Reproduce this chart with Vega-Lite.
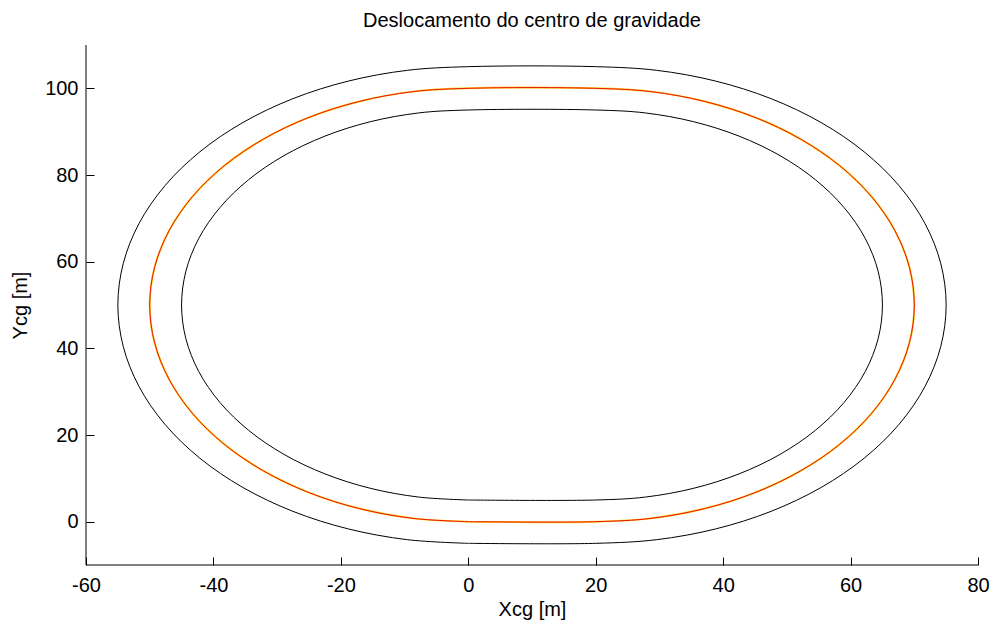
{
  "$schema": "https://vega.github.io/schema/vega-lite/v6.json",
  "width": 892,
  "height": 520,
  "autosize": "none",
  "padding": {"left": 86, "top": 45, "right": 13, "bottom": 60},
  "background": "white",
  "config": {
    "view": {"stroke": null},
    "font": "Liberation Sans, Arial, sans-serif"
  },
  "title": {
    "text": "Deslocamento do centro de gravidade",
    "fontSize": 20,
    "fontWeight": "normal",
    "color": "#000000",
    "offset": 14,
    "anchor": "middle"
  },
  "datasets": {
    "frame": [
      {"x": -60, "x2": 80, "y": -10, "y2": -10},
      {"x": -60, "x2": -60, "y": -10, "y2": 110}
    ],
    "outer": [
      {"i": 0, "x": 0, "y": -5}, {"i": 2, "x": 20, "y": -5},
      {"i": 3, "x": 29.55, "y": -4.16}, {"i": 4, "x": 38.81, "y": -1.68}, {"i": 5, "x": 47.5, "y": 2.37},
      {"i": 6, "x": 55.35, "y": 7.87}, {"i": 7, "x": 62.13, "y": 14.65}, {"i": 8, "x": 67.63, "y": 22.5},
      {"i": 9, "x": 71.68, "y": 31.19}, {"i": 10, "x": 74.16, "y": 40.45}, {"i": 11, "x": 75, "y": 50},
      {"i": 12, "x": 74.16, "y": 59.55}, {"i": 13, "x": 71.68, "y": 68.81}, {"i": 14, "x": 67.63, "y": 77.5},
      {"i": 15, "x": 62.13, "y": 85.35}, {"i": 16, "x": 55.35, "y": 92.13}, {"i": 17, "x": 47.5, "y": 97.63},
      {"i": 18, "x": 38.81, "y": 101.68}, {"i": 19, "x": 29.55, "y": 104.16}, {"i": 20, "x": 20, "y": 105},
      {"i": 22, "x": 0, "y": 105},
      {"i": 23, "x": -9.55, "y": 104.16}, {"i": 24, "x": -18.81, "y": 101.68}, {"i": 25, "x": -27.5, "y": 97.63},
      {"i": 26, "x": -35.35, "y": 92.13}, {"i": 27, "x": -42.13, "y": 85.35}, {"i": 28, "x": -47.63, "y": 77.5},
      {"i": 29, "x": -51.68, "y": 68.81}, {"i": 30, "x": -54.16, "y": 59.55}, {"i": 31, "x": -55, "y": 50},
      {"i": 32, "x": -54.16, "y": 40.45}, {"i": 33, "x": -51.68, "y": 31.19}, {"i": 34, "x": -47.63, "y": 22.5},
      {"i": 35, "x": -42.13, "y": 14.65}, {"i": 36, "x": -35.35, "y": 7.87}, {"i": 37, "x": -27.5, "y": 2.37},
      {"i": 38, "x": -18.81, "y": -1.68}, {"i": 39, "x": -9.55, "y": -4.16}, {"i": 40, "x": 0, "y": -5}
    ],
    "center": [
      {"i": 0, "x": 0, "y": 0}, {"i": 2, "x": 20, "y": 0},
      {"i": 3, "x": 28.68, "y": 0.76}, {"i": 4, "x": 37.1, "y": 3.02}, {"i": 5, "x": 45, "y": 6.7},
      {"i": 6, "x": 52.14, "y": 11.7}, {"i": 7, "x": 58.3, "y": 17.86}, {"i": 8, "x": 63.3, "y": 25},
      {"i": 9, "x": 66.98, "y": 32.9}, {"i": 10, "x": 69.24, "y": 41.32}, {"i": 11, "x": 70, "y": 50},
      {"i": 12, "x": 69.24, "y": 58.68}, {"i": 13, "x": 66.98, "y": 67.1}, {"i": 14, "x": 63.3, "y": 75},
      {"i": 15, "x": 58.3, "y": 82.14}, {"i": 16, "x": 52.14, "y": 88.3}, {"i": 17, "x": 45, "y": 93.3},
      {"i": 18, "x": 37.1, "y": 96.98}, {"i": 19, "x": 28.68, "y": 99.24}, {"i": 20, "x": 20, "y": 100},
      {"i": 22, "x": 0, "y": 100},
      {"i": 23, "x": -8.68, "y": 99.24}, {"i": 24, "x": -17.1, "y": 96.98}, {"i": 25, "x": -25, "y": 93.3},
      {"i": 26, "x": -32.14, "y": 88.3}, {"i": 27, "x": -38.3, "y": 82.14}, {"i": 28, "x": -43.3, "y": 75},
      {"i": 29, "x": -46.98, "y": 67.1}, {"i": 30, "x": -49.24, "y": 58.68}, {"i": 31, "x": -50, "y": 50},
      {"i": 32, "x": -49.24, "y": 41.32}, {"i": 33, "x": -46.98, "y": 32.9}, {"i": 34, "x": -43.3, "y": 25},
      {"i": 35, "x": -38.3, "y": 17.86}, {"i": 36, "x": -32.14, "y": 11.7}, {"i": 37, "x": -25, "y": 6.7},
      {"i": 38, "x": -17.1, "y": 3.02}, {"i": 39, "x": -8.68, "y": 0.76}, {"i": 40, "x": 0, "y": 0}
    ],
    "inner": [
      {"i": 0, "x": 0, "y": 5}, {"i": 2, "x": 20, "y": 5},
      {"i": 3, "x": 27.81, "y": 5.68}, {"i": 4, "x": 35.39, "y": 7.71}, {"i": 5, "x": 42.5, "y": 11.03},
      {"i": 6, "x": 48.93, "y": 15.53}, {"i": 7, "x": 54.47, "y": 21.07}, {"i": 8, "x": 58.97, "y": 27.5},
      {"i": 9, "x": 62.29, "y": 34.61}, {"i": 10, "x": 64.32, "y": 42.19}, {"i": 11, "x": 65, "y": 50},
      {"i": 12, "x": 64.32, "y": 57.81}, {"i": 13, "x": 62.29, "y": 65.39}, {"i": 14, "x": 58.97, "y": 72.5},
      {"i": 15, "x": 54.47, "y": 78.93}, {"i": 16, "x": 48.93, "y": 84.47}, {"i": 17, "x": 42.5, "y": 88.97},
      {"i": 18, "x": 35.39, "y": 92.29}, {"i": 19, "x": 27.81, "y": 94.32}, {"i": 20, "x": 20, "y": 95},
      {"i": 22, "x": 0, "y": 95},
      {"i": 23, "x": -7.81, "y": 94.32}, {"i": 24, "x": -15.39, "y": 92.29}, {"i": 25, "x": -22.5, "y": 88.97},
      {"i": 26, "x": -28.93, "y": 84.47}, {"i": 27, "x": -34.47, "y": 78.93}, {"i": 28, "x": -38.97, "y": 72.5},
      {"i": 29, "x": -42.29, "y": 65.39}, {"i": 30, "x": -44.32, "y": 57.81}, {"i": 31, "x": -45, "y": 50},
      {"i": 32, "x": -44.32, "y": 42.19}, {"i": 33, "x": -42.29, "y": 34.61}, {"i": 34, "x": -38.97, "y": 27.5},
      {"i": 35, "x": -34.47, "y": 21.07}, {"i": 36, "x": -28.93, "y": 15.53}, {"i": 37, "x": -22.5, "y": 11.03},
      {"i": 38, "x": -15.39, "y": 7.71}, {"i": 39, "x": -7.81, "y": 5.68}, {"i": 40, "x": 0, "y": 5}
    ]
  },
  "encoding": {
    "x": {
      "field": "x",
      "type": "quantitative",
      "scale": {"domain": [-60, 80], "nice": false, "zero": false},
      "axis": {
        "title": "Xcg [m]",
        "values": [-60, -40, -20, 0, 20, 40, 60, 80],
        "labelExpr": "'' + datum.value",
        "grid": false,
        "domain": false,
        "offset": -8,
        "ticks": true,
        "tickColor": "#000000",
        "tickWidth": 1,
        "tickSize": 8,
        "labelPadding": 10,
        "labelFontSize": 20,
        "labelColor": "#000000",
        "labelFlush": false,
        "labelOverlap": false,
        "titleFontSize": 20,
        "titleFontWeight": "normal",
        "titleColor": "#000000",
        "titlePadding": 4
      }
    },
    "y": {
      "field": "y",
      "type": "quantitative",
      "scale": {"domain": [-10, 110], "nice": false, "zero": false},
      "axis": {
        "title": "Ycg [m]",
        "values": [0, 20, 40, 60, 80, 100],
        "labelExpr": "'' + datum.value",
        "grid": false,
        "domain": false,
        "offset": -8,
        "ticks": true,
        "tickColor": "#000000",
        "tickWidth": 1,
        "tickSize": 8,
        "labelPadding": 8,
        "labelFontSize": 20,
        "labelColor": "#000000",
        "labelFlush": false,
        "labelOverlap": false,
        "titleFontSize": 20,
        "titleFontWeight": "normal",
        "titleColor": "#000000",
        "titlePadding": 14
      }
    },
    "order": {"field": "i", "type": "quantitative"}
  },
  "layer": [
    {"data": {"name": "frame"}, "mark": {"type": "rule", "color": "#000000", "strokeWidth": 1},
     "encoding": {"x2": {"field": "x2"}, "y2": {"field": "y2"}}},
    {"data": {"name": "outer"}, "mark": {"type": "line", "color": "#000000", "strokeWidth": 1, "interpolate": "catmull-rom"}},
    {"data": {"name": "inner"}, "mark": {"type": "line", "color": "#000000", "strokeWidth": 1, "interpolate": "catmull-rom"}},
    {"data": {"name": "center"}, "mark": {"type": "line", "color": "#ffd21f", "strokeWidth": 2, "interpolate": "catmull-rom"}},
    {"data": {"name": "center"}, "mark": {"type": "line", "color": "#e81010", "strokeWidth": 1, "interpolate": "catmull-rom"}}
  ]
}
